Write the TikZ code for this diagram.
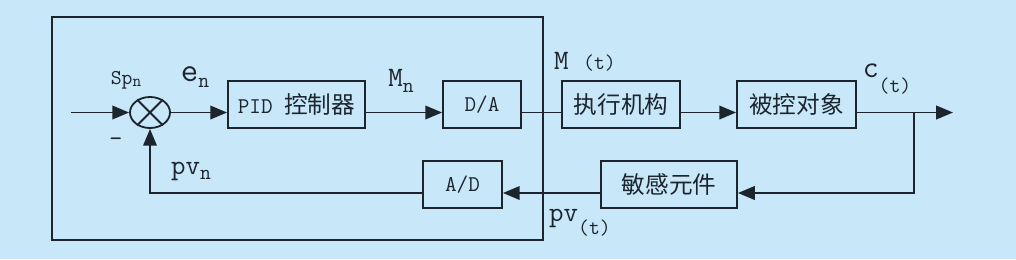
\documentclass[tikz,border=0pt]{standalone}
\usepackage{fontspec}
\setmainfont{Latin Modern Mono}
\newfontfamily\cjk[Scale=1.05]{Noto Sans CJK SC}
\usetikzlibrary{arrows.meta,shapes.geometric,calc}
\definecolor{bgBlue}{RGB}{200,232,249}
\definecolor{lineDark}{RGB}{28,36,46}
\newcommand{\sub}[1]{\raisebox{-0.45ex}{\fontsize{15}{15}\selectfont #1}}

\begin{document}
\begin{tikzpicture}[x=0.025cm, y=-0.025cm,
    every node/.style={font=\fontsize{16}{19}\selectfont, text=lineDark},
    block/.style={draw=lineDark, line width=1.3pt, minimum height=1.175cm, inner sep=0pt},
    wire/.style={draw=lineDark, line width=1.3pt},
    sig/.style={wire, -{Triangle[length=0.42cm, width=0.34cm]}},
    lbl/.style={font=\fontsize{18}{20}\selectfont, inner sep=0pt}]
    % Background
    \fill[bgBlue] (0,0) rectangle (1016,259);
    \useasboundingbox (0,0) rectangle (1016,259);

    % Computer frame
    \node[draw=lineDark, line width=1.3pt, minimum width=12.275cm, minimum height=5.575cm] (computer)
        at (297.5,128.5) {};

    % Forward path blocks
    \node[ellipse, draw=lineDark, line width=1.3pt, minimum width=1cm, minimum height=0.775cm, inner sep=0pt] (sum)
        at (150,112.5) {};
    \draw[wire] (sum.45) -- (sum.225) (sum.135) -- (sum.315);
    \node[block, minimum width=3.425cm] (pid) at (296.5,104.5) {PID~{\cjk 控制器}};
    \node[block, minimum width=1.95cm] (da) at (482,104.5) {D/A};
    \node[block, minimum width=2.95cm] (actuator) at (621,104.5) {\cjk 执行机构};
    \node[block, minimum width=2.975cm] (plant) at (796.5,104.5) {\cjk 被控对象};

    % Feedback blocks
    \node[block, minimum width=3.4cm] (sensor) at (669,184.5) {\cjk 敏感元件};
    \node[block, minimum width=1.975cm] (ad) at (462.5,184.5) {A/D};

    % Free ends
    \coordinate (input) at (71,112.5);
    \coordinate (branch) at (914,112.5);
    \coordinate (output) at (953,112.5);
    \coordinate (fb) at (914,193);

    % Connectors
    \draw[sig] (input) -- (sum.west);
    \draw[sig] (sum.east) -- (sum -| pid.west);
    \draw[sig] (sum -| pid.east) -- (sum -| da.west);
    \draw[wire] (sum -| da.east) -- (sum -| actuator.west);
    \draw[sig] (sum -| actuator.east) -- (sum -| plant.west);
    \draw[sig] (sum -| plant.east) -- (output);
    \draw[sig] (branch) -- (fb) -- (fb -| sensor.east);
    \draw[sig] (fb -| sensor.west) -- (fb -| ad.east);
    \draw[sig] (fb -| ad.west) -- (fb -| sum) -- (sum.south);

    % Signal labels
    \node[lbl, font=\fontsize{15}{17}\selectfont] (sp) at (126,80) {Sp\raisebox{-0.3ex}{\fontsize{12}{12}\selectfont n}};
    \node[lbl, font=\fontsize{24}{26}\selectfont] (err) at (195,77) {e\sub{n}};
    \node[lbl, font=\fontsize{20}{22}\selectfont] (mn) at (401,81) {M\sub{n}};
    \node[lbl, font=\fontsize{20}{22}\selectfont] (mt) at (585,62) {M~{\fontsize{15}{15}\selectfont(t)}};
    \node[lbl, font=\fontsize{22}{24}\selectfont] (ct) at (887,79) {c\raisebox{-1.1ex}{\fontsize{15}{15}\selectfont(t)}};
    \node[lbl, font=\fontsize{20}{22}\selectfont] (pvn) at (191,171) {pv\sub{n}};
    \node[lbl, font=\fontsize{20}{22}\selectfont] (pvt) at (580,223) {pv\raisebox{-1.1ex}{\fontsize{15}{15}\selectfont(t)}};
    \node[lbl] (minus) at (116,142) {\textendash};
\end{tikzpicture}
\end{document}
